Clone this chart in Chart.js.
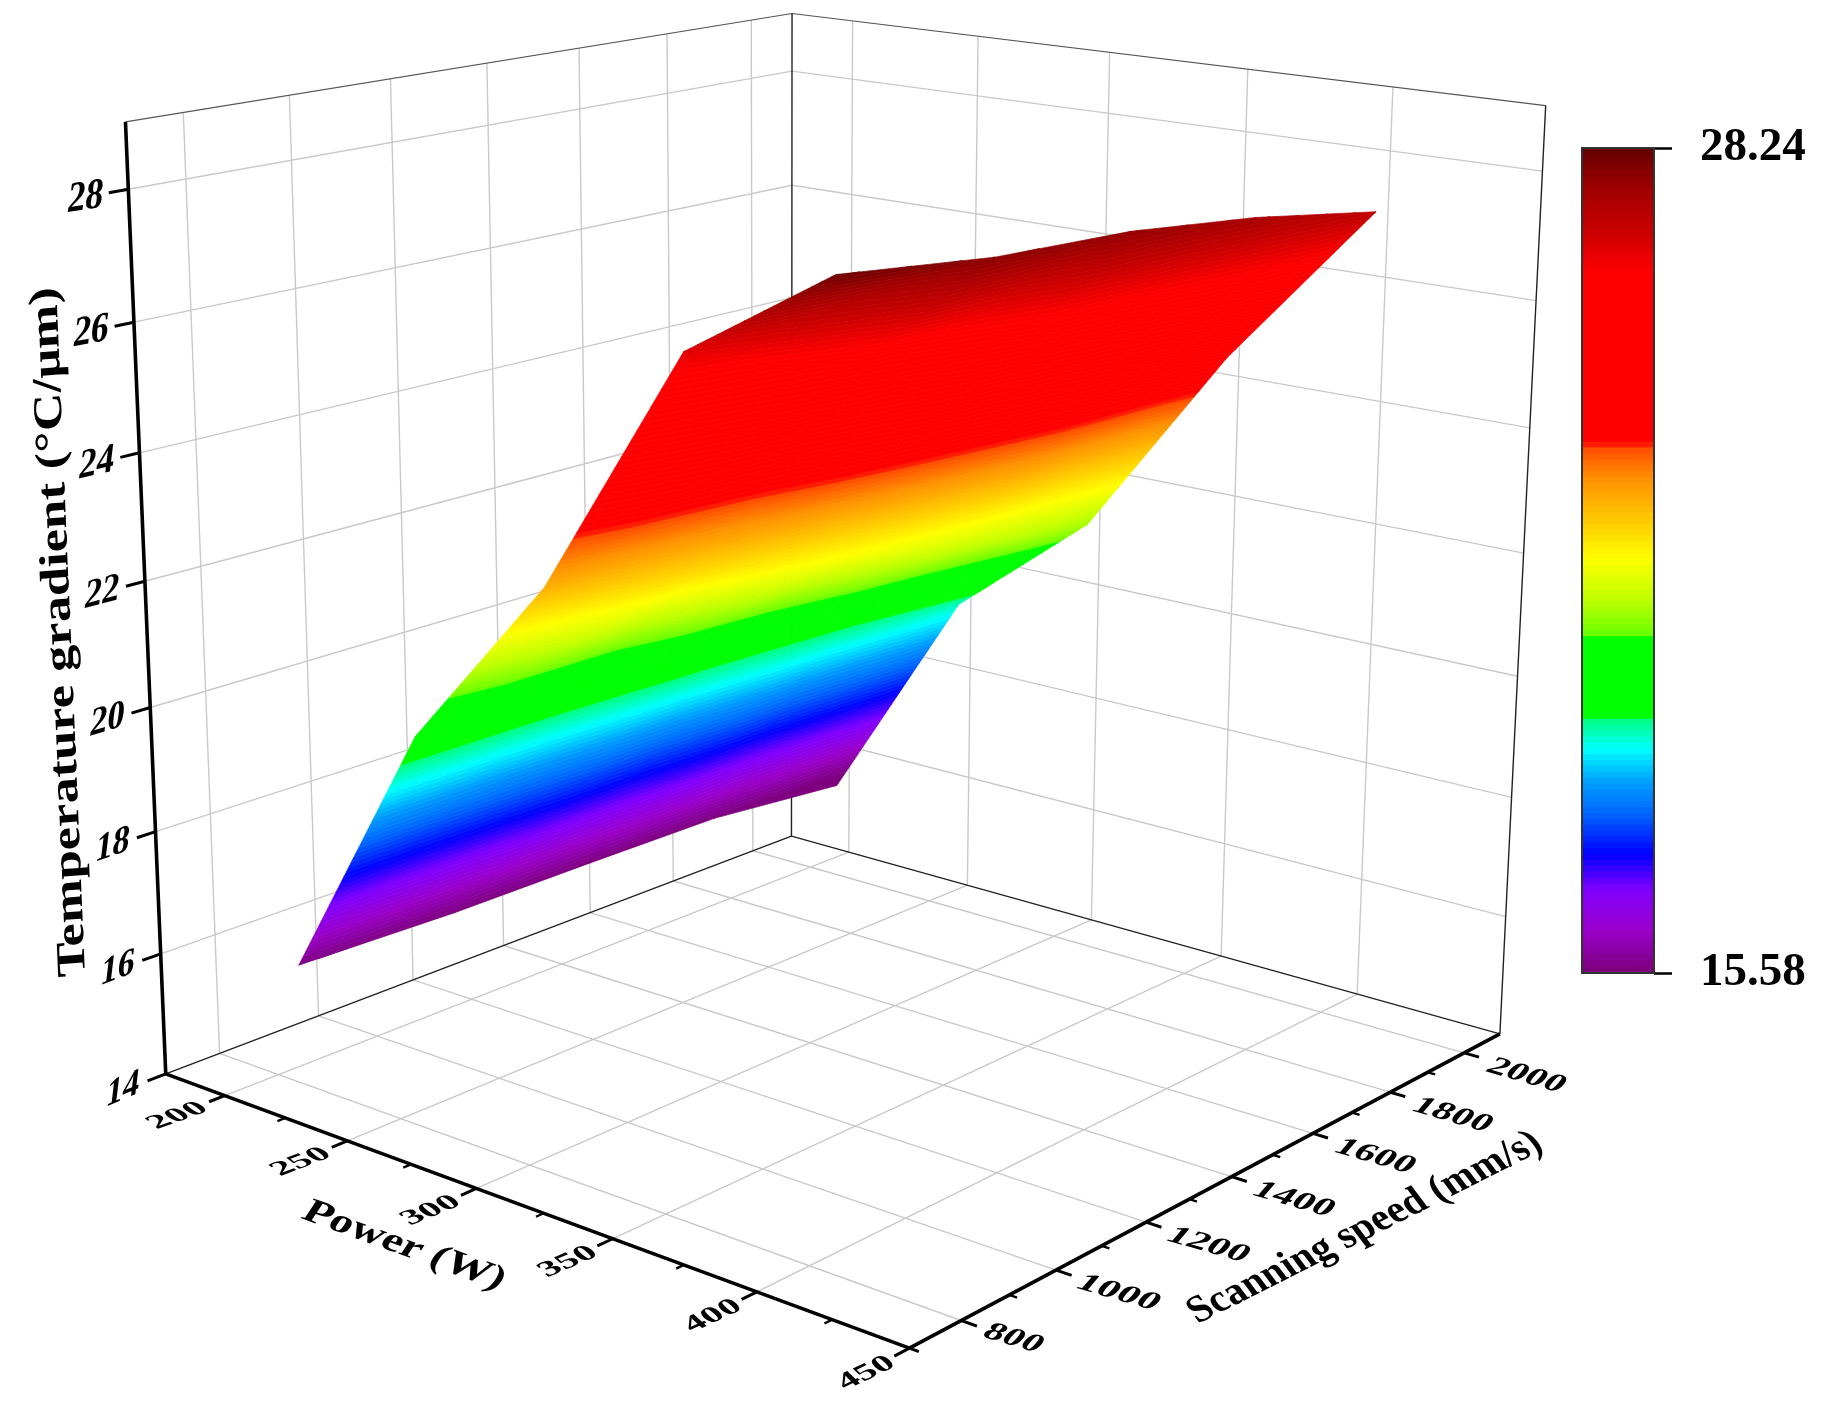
<!DOCTYPE html>
<html><head><meta charset="utf-8">
<script src="https://cdn.jsdelivr.net/npm/chart.js@4/dist/chart.umd.js"></script>
<style>html,body{margin:0;background:#fff}canvas{position:absolute;display:block}</style></head>
<body>
<canvas id="main" width="1827" height="1408" style="left:0;top:0"></canvas>
<canvas id="bar" width="267" height="920" style="left:1560px;top:100px"></canvas>
<script>
// ---- data ----
const powerValues=[200,250,300,350,400];
const speedValues=[847,1167,1464,1760,2068];
const gradientAt200=[15.68,15.60,15.60,15.58,15.35];
const gradientAt250=[19.99,19.95,19.75,19.50,19.22];
const gradientAt300=[22.80,22.35,21.85,21.45,21.12];
const gradientAt350=[26.66,25.70,24.95,24.50,24.37];
const gradientAt400=[28.10,27.82,27.72,27.47,27.09];
const surfaceRows=[gradientAt200,gradientAt250,gradientAt300,gradientAt350,gradientAt400];
const powerTicks=[200,250,300,350,400,450];
const powerMinor=[225,275,325,375,425];
const speedTicks=[800,1000,1200,1400,1600,1800,2000];
const speedMinor=[900,1100,1300,1500,1700,1900];
const gradientTicks=[14,16,18,20,22,24,26,28];
const barMin=15.58, barMax=28.24;
const colorZ=[15.58,16.24,16.85,17.39,17.97,18.50,19.00,19.46,19.51,20.77,20.78,21.30,21.92,23.15,23.65,23.68,23.76,26.32,26.98,27.60,28.24];
const colorRGB=['#7c007c','#9a00cc','#8000ff','#0000ff','#0060ff','#00a0ff','#00ffff','#00ff80','#00ff00','#00ff00','#70ff00','#c0ff00','#ffff00','#ff9000','#ff4800','#ff1000','#ff0000','#ff0000','#c80000','#a00000','#600000'];
const bandCount=140;
// ---- axis box and fitted camera ----
const Pa=175,Pb=450,Sa=695,Sb=2100,Za=14,Zb=29;
const camera=[617.38025,756.61334,-48.01192,165.75854,87.00047,-99.54426,-959.49423,1073.92807,-0.13884,0.16541,-0.06147];
function proj(P,S,Z){
  const X=(P-Pa)/(Pb-Pa),Y=(S-Sa)/(Sb-Sa),W=(Z-Za)/(Zb-Za),c=camera;
  const w=c[8]*X+c[9]*Y+c[10]*W+1;
  return {x:(c[0]*X+c[1]*Y+c[2]*W+c[3])/w,y:(c[4]*X+c[5]*Y+c[6]*W+c[7])/w};
}
const GAP={x:NaN,y:NaN};
function seg(list,a,b){list.push(proj(...a),proj(...b),GAP);}
const gridPts=[];
gradientTicks.filter(z=>z>14).forEach(z=>{seg(gridPts,[Pa,Sa,z],[Pa,Sb,z]);seg(gridPts,[Pa,Sb,z],[Pb,Sb,z]);});
speedTicks.forEach(s=>{seg(gridPts,[Pa,s,Za],[Pa,s,Zb]);seg(gridPts,[Pa,s,Za],[Pb,s,Za]);});
powerTicks.filter(p=>p<450).forEach(p=>{seg(gridPts,[p,Sb,Za],[p,Sb,Zb]);seg(gridPts,[p,Sa,Za],[p,Sb,Za]);});
const framePts=[];
seg(framePts,[Pa,Sa,Za],[Pa,Sb,Za]);seg(framePts,[Pa,Sb,Za],[Pb,Sb,Za]);
seg(framePts,[Pa,Sb,Za],[Pa,Sb,Zb]);seg(framePts,[Pb,Sb,Za],[Pb,Sb,Zb]);
const topPts=[];
seg(topPts,[Pa,Sa,Zb],[Pa,Sb,Zb]);seg(topPts,[Pa,Sb,Zb],[Pb,Sb,Zb]);
const axisPts=[];
seg(axisPts,[Pa,Sa,Za],[Pa,Sa,Zb]);seg(axisPts,[Pa,Sa,Za],[Pb,Sa,Za]);seg(axisPts,[Pb,Sa,Za],[Pb,Sb,Za]);
const tickPts=[],minorPts=[];
powerTicks.forEach(p=>seg(tickPts,[p,Sa,Za],[p,Sa-30,Za]));
speedTicks.forEach(s=>seg(tickPts,[Pb,s,Za],[Pb+5,s,Za]));
seg(tickPts,[Pb,Sa,Za],[Pb+3,Sa,Za]);
gradientTicks.forEach(z=>seg(tickPts,[Pa,Sa,z],[Pa,Sa-35,z]));
powerMinor.forEach(p=>seg(minorPts,[p,Sa,Za],[p,Sa-15,Za]));
speedMinor.forEach(s=>seg(minorPts,[Pb,s,Za],[Pb+2.5,s,Za]));
function hex(c){return [1,3,5].map(i=>parseInt(c.substr(i,2),16));}
function colorFor(z){
  if(z<=colorZ[0])return colorRGB[0];
  for(let i=1;i<colorZ.length;i++)if(z<=colorZ[i]){
    const t=(z-colorZ[i-1])/(colorZ[i]-colorZ[i-1]),a=hex(colorRGB[i-1]),b=hex(colorRGB[i]);
    return 'rgb('+a.map((v,k)=>Math.round(v+(b[k]-v)*t)).join(',')+')';
  }
  return colorRGB[colorRGB.length-1];
}
function clip(poly,level,keepAbove){
  const out=[];
  for(let i=0;i<poly.length;i++){
    const a=poly[i],b=poly[(i+1)%poly.length];
    const ia=keepAbove?a[2]>=level:a[2]<=level, ib=keepAbove?b[2]>=level:b[2]<=level;
    if(ia)out.push(a);
    if(ia!==ib){const t=(level-a[2])/(b[2]-a[2]);out.push([a[0]+(b[0]-a[0])*t,a[1]+(b[1]-a[1])*t,level]);}
  }
  return out;
}
const tris=[];
for(let i=0;i<powerValues.length-1;i++)for(let j=0;j<speedValues.length-1;j++){
  const v=(r,c)=>[powerValues[r],speedValues[c],surfaceRows[r][c]];
  tris.push([v(i,j),v(i+1,j),v(i+1,j+1)],[v(i,j),v(i+1,j+1),v(i,j+1)]);
}
const step=(barMax-barMin)/bandCount,bandSets=[],barSets=[];
for(let k=0;k<bandCount;k++){
  const lo=barMin+k*step,hi=lo+step,col=colorFor(lo+step/2),pts=[];
  tris.forEach(t=>{
    let p=t;
    if(k>0)p=clip(p,lo,true);
    if(k<bandCount-1&&p.length)p=clip(p,hi,false);
    if(p.length>2){p.forEach(q=>pts.push(proj(q[0],q[1],q[2])));pts.push(GAP);}
  });
  bandSets.push({type:'scatter',surfaceBand:true,fillColor:col,data:pts,showLine:false,pointRadius:0});
  barSets.push({data:[[lo,hi+0.01]],backgroundColor:col,borderWidth:0,barPercentage:1,categoryPercentage:1,grouped:false});
}
function lineSet(data,color,width){return {type:'scatter',data,showLine:true,pointRadius:0,borderColor:color,borderWidth:width,spanGaps:false,borderCapStyle:'butt'};}
const FONT='"Liberation Serif"';
function skewText(ctx,t,cx,cy,bx,by,ux,uy,w,h){
  const fs=40;
  ctx.save();
  ctx.font='bold '+fs+'px '+FONT;
  const m=ctx.measureText(t).width,bl=Math.hypot(bx,by),ul=Math.hypot(ux,uy);
  ctx.setTransform(bx/bl*w/m,by/bl*w/m,-ux/ul*h/fs,-uy/ul*h/fs,cx,cy);
  ctx.textAlign='center';ctx.textBaseline='middle';ctx.fillStyle='#000';
  ctx.fillText(t,0,0);
  ctx.restore();
}
const surfacePlugin={id:'surface',afterDatasetsDraw(chart){
  const ctx=chart.ctx;ctx.save();ctx.lineWidth=0.7;ctx.lineJoin='round';
  chart.data.datasets.forEach((d,i)=>{
    if(!d.surfaceBand)return;
    const pts=chart.getDatasetMeta(i).data;
    ctx.beginPath();let start=true;
    pts.forEach(p=>{
      if(p.skip){ctx.closePath();start=true;return;}
      if(start){ctx.moveTo(p.x,p.y);start=false;}else ctx.lineTo(p.x,p.y);
    });
    ctx.fillStyle=d.fillColor;ctx.strokeStyle=d.fillColor;ctx.fill();ctx.stroke();
  });
  ctx.restore();
}};
const labelPlugin={id:'labels3d',afterDraw(chart){
  const ctx=chart.ctx,sx=chart.scales.x,sy=chart.scales.y;
  const px=q=>[sx.getPixelForValue(q.x),sy.getPixelForValue(q.y)];
  gradientTicks.forEach(z=>{
    const [x,y]=px(proj(Pa,Sa,z)),f=(28-z)/14;
    skewText(ctx,String(z),x-43,y+9+f*7,1,-0.15-f*0.27,0.12,-0.99,36,44-f*5);
  });
  powerTicks.forEach((p,i)=>{
    const [x,y]=px(proj(p,Sa,Za)),f=i/5;
    skewText(ctx,String(p),x-47+f*4,y+20+f*5,0.93,-0.33-f*0.12,-0.81+f*0.1,-0.58-f*0.1,57,27);
  });
  speedTicks.forEach((s,i)=>{
    const [x,y]=px(proj(Pb,s,Za)),t=String(s);
    skewText(ctx,t,x+(t.length>3?62:52),y+(t.length>3?23:18),0.96,0.28,0.65,-0.76,t.length>3?84-i:58,29);
  });
  skewText(ctx,'Temperature gradient (°C/μm)',60,632,-0.042,-0.999,-1,0.08,690,41);
  skewText(ctx,'Power (W)',404,1246,0.94,0.34,0.55,-0.83,211,36);
  skewText(ctx,'Scanning speed (mm/s)',1365,1228,0.893,-0.45,-0.6,-0.8,389,41);
}};
new Chart(document.getElementById('main'),{
  type:'scatter',
  data:{datasets:[
    lineSet(axisPts,'#000',3.6),lineSet(tickPts,'#000',3),lineSet(minorPts,'#000',2.4),
    lineSet(framePts,'#222',1.4),lineSet(topPts,'#555',1.2),lineSet(gridPts,'#c9c9c9',1.4),
    ...bandSets]},
  options:{responsive:false,animation:false,events:[],clip:false,layout:{padding:0},
    plugins:{legend:{display:false},tooltip:{enabled:false}},
    scales:{x:{type:'linear',min:0,max:1827,display:false},y:{type:'linear',min:0,max:1408,reverse:true,display:false}}},
  plugins:[surfacePlugin,labelPlugin]
});
const boxPlugin={id:'box',afterDatasetsDraw(chart){
  const a=chart.chartArea,ctx=chart.ctx;ctx.save();ctx.strokeStyle='#333';ctx.lineWidth=2;
  ctx.strokeRect(a.left,a.top,a.width,a.height);ctx.restore();
}};
new Chart(document.getElementById('bar'),{
  type:'bar',
  data:{labels:[''],datasets:barSets},
  options:{responsive:false,animation:false,events:[],
    layout:{padding:{left:22,top:48,bottom:47,right:0}},
    plugins:{legend:{display:false},tooltip:{enabled:false}},
    scales:{
      x:{stacked:false,display:false},
      y:{position:'right',min:barMin,max:barMax,
        afterBuildTicks(ax){ax.ticks=[{value:barMin},{value:barMax}];},
        afterFit(ax){ax.width=173;ax.paddingTop=0;ax.paddingBottom=0;},
        grid:{display:true,drawOnChartArea:false,drawTicks:true,tickLength:18,tickColor:'#000',tickWidth:2.5},
        border:{display:false},
        ticks:{padding:28,color:'#000',font:{family:FONT,weight:'bold',size:47},
          callback:v=>Number(v).toFixed(2),autoSkip:false,maxRotation:0}}
    }},
  plugins:[boxPlugin]
});
</script></body></html>
